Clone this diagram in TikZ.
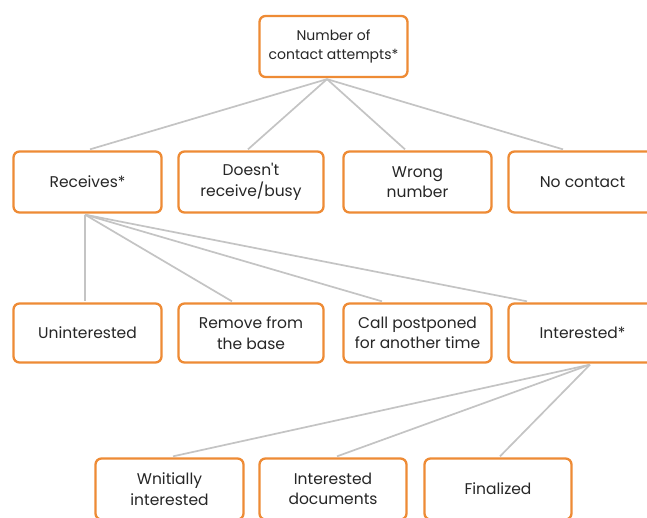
\documentclass[tikz,border=0pt]{standalone}
\usepackage{fontspec}
\setmainfont{Poppins}
\definecolor{boxorange}{HTML}{EE8B35}
\definecolor{linkgray}{HTML}{C4C4C4}
\definecolor{txt}{HTML}{262626}
\begin{document}
\begin{tikzpicture}[x=1pt,y=-1pt,
  box/.style={draw=boxorange, line width=2.3pt, rounded corners=6pt, fill=white,
    minimum width=148pt, minimum height=61pt, align=center, inner sep=1pt,
    font=\fontsize{15.5}{20.5}\selectfont, text=txt},
  link/.style={draw=linkgray, line width=1.7pt}]
\useasboundingbox (0,0) rectangle (647,518);
\clip (0,0) rectangle (647,518);
\fill[white] (0,0) rectangle (647,518);
% nodes
\node[box,font=\fontsize{14}{19}\selectfont] (top) at (333.5,46.5) {Number of\\contact attempts*};
\node[box] (rec) at (87.5,182) {Receives*};
\node[box,minimum width=145pt] (busy) at (251,182) {Doesn\textquotesingle t\\receive/busy};
\node[box] (wrong) at (417.5,182) {Wrong\\number};
\node[box] (nocon) at (582.5,182) {No contact};
\node[box,minimum height=59pt] (unint) at (87.5,333) {Uninterested};
\node[box,minimum height=59pt,minimum width=145pt] (remove) at (251,333) {Remove from\\the base};
\node[box,minimum height=59pt] (call) at (417.5,333) {Call postponed\\for another time};
\node[box,minimum height=59pt] (inter) at (582.5,333) {Interested*};
\node[box] (wn) at (169.5,489) {Wnitially\\interested};
\node[box,minimum width=147pt] (idoc) at (333,489) {Interested\\documents};
\node[box,minimum width=147pt] (fin) at (498,489) {Finalized};
% connectors
\path[link] ([xshift=-6.5pt,yshift=-1pt]top.south) -- ([xshift=2.5pt,yshift=1pt]rec.north);
\path[link] ([xshift=-6.5pt,yshift=-1pt]top.south) -- ([xshift=-3pt,yshift=1pt]busy.north);
\path[link] ([xshift=-6.5pt,yshift=-1pt]top.south) -- ([xshift=-12.5pt,yshift=1pt]wrong.north);
\path[link] ([xshift=-6.5pt,yshift=-1pt]top.south) -- ([xshift=-19.5pt,yshift=1pt]nocon.north);
\path[link] ([xshift=-2.5pt,yshift=-1pt]rec.south) -- ([xshift=-2.5pt,yshift=1pt]unint.north);
\path[link] ([xshift=-2.5pt,yshift=-1pt]rec.south) -- ([xshift=-19pt,yshift=1pt]remove.north);
\path[link] ([xshift=-2.5pt,yshift=-1pt]rec.south) -- ([xshift=-35.5pt,yshift=1pt]call.north);
\path[link] ([xshift=-2.5pt,yshift=-1pt]rec.south) -- ([xshift=-55.5pt,yshift=1pt]inter.north);
\path[link] ([xshift=7.5pt,yshift=-1pt]inter.south) -- ([xshift=3.5pt,yshift=1pt]wn.north);
\path[link] ([xshift=7.5pt,yshift=-1pt]inter.south) -- ([xshift=4pt,yshift=1pt]idoc.north);
\path[link] ([xshift=7.5pt,yshift=-1pt]inter.south) -- ([xshift=2pt,yshift=1pt]fin.north);
\end{tikzpicture}
\end{document}
